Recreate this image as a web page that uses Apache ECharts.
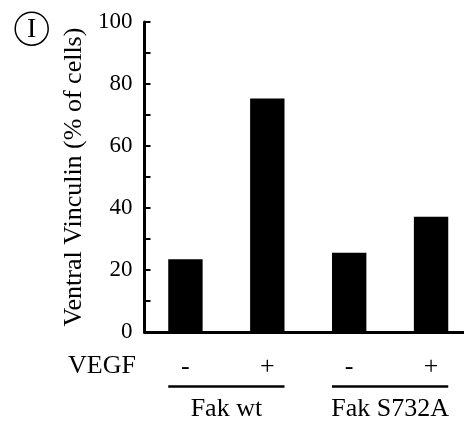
<!DOCTYPE html>
<html><head><meta charset="utf-8">
<script src="https://cdn.jsdelivr.net/npm/echarts@6/dist/echarts.min.js"></script>
<style>html,body{margin:0;padding:0;background:#fff}#c{width:464px;height:421px}</style>
</head><body><div id="c"></div>
<script>
const categories = ['Fak wt -', 'Fak wt +', 'Fak S732A -', 'Fak S732A +'];
const vegfLabels = ['-', '+', '-', '+'];
const groups = ['Fak wt', 'Fak S732A'];
const groupMembers = [[0, 1], [2, 3]];
const values = [23.5, 75.3, 25.6, 37.2];
const yTitle = 'Ventral Vinculin (% of cells)';
const rowTitle = 'VEGF';
const panelLetter = 'I';

const FONT = "'Liberation Serif', 'Times New Roman', serif";
const BAR_PCT = 0.42;
const chart = echarts.init(document.getElementById('c'), null, {renderer: 'canvas'});
chart.setOption({
  animation: false,
  backgroundColor: '#fff',
  grid: {left: 144.5, top: 22, width: 327.5, bottom: 89, outerBoundsMode: 'none'},
  xAxis: {
    type: 'category',
    data: categories,
    axisLine: {lineStyle: {color: '#000', width: 3}},
    axisTick: {inside: true, length: 6, lineStyle: {color: '#000', width: 2}},
    axisLabel: {
      color: '#000', fontFamily: FONT, fontSize: 26, margin: 22,
      formatter: (v, i) => vegfLabels[i]
    }
  },
  yAxis: {
    type: 'value', min: 0, max: 100, interval: 20,
    name: yTitle, nameLocation: 'middle', nameGap: 55, nameRotate: 90,
    nameTextStyle: {color: '#000', fontFamily: FONT, fontSize: 26},
    axisLine: {show: true, lineStyle: {color: '#000', width: 3}},
    axisTick: {show: true, inside: true, length: 6, lineStyle: {color: '#000', width: 2}},
    minorTick: {show: true, splitNumber: 2, length: 6, lineStyle: {color: '#000', width: 2}},
    splitLine: {show: false},
    axisLabel: {color: '#000', fontFamily: FONT, fontSize: 23, margin: 12}
  },
  series: [{
    type: 'bar', data: values, barWidth: (BAR_PCT * 100) + '%',
    itemStyle: {color: '#000'}
  }]
});

function decorate() {
  const idx0 = chart.convertToPixel({xAxisIndex: 0}, 0);
  const idx1 = chart.convertToPixel({xAxisIndex: 0}, 1);
  const band = idx1 - idx0;
  const bw = band * BAR_PCT;
  const elements = [];
  groups.forEach((g, k) => {
    const a = chart.convertToPixel({xAxisIndex: 0}, groupMembers[k][0]) - bw / 2;
    const b = chart.convertToPixel({xAxisIndex: 0}, groupMembers[k][1]) + bw / 2;
    elements.push({type: 'line', shape: {x1: a, y1: 386.5, x2: b, y2: 386.5}, style: {stroke: '#000', lineWidth: 2.5}});
    elements.push({type: 'text', x: (a + b) / 2, y: 409, style: {text: g, fill: '#000', font: '26px ' + FONT, textAlign: 'center', textVerticalAlign: 'middle'}});
  });
  elements.push({type: 'text', x: 68, y: 366, style: {text: rowTitle, fill: '#000', font: '26px ' + FONT, textAlign: 'left', textVerticalAlign: 'middle'}});
  elements.push({type: 'circle', shape: {cx: 31.7, cy: 28.7, r: 16.5}, style: {fill: 'none', stroke: '#000', lineWidth: 1.5}});
  elements.push({type: 'text', x: 31.7, y: 29.5, style: {text: panelLetter, fill: '#000', font: '28px ' + FONT, textAlign: 'center', textVerticalAlign: 'middle'}});
  chart.setOption({graphic: {elements}});
}
decorate();
</script></body></html>
